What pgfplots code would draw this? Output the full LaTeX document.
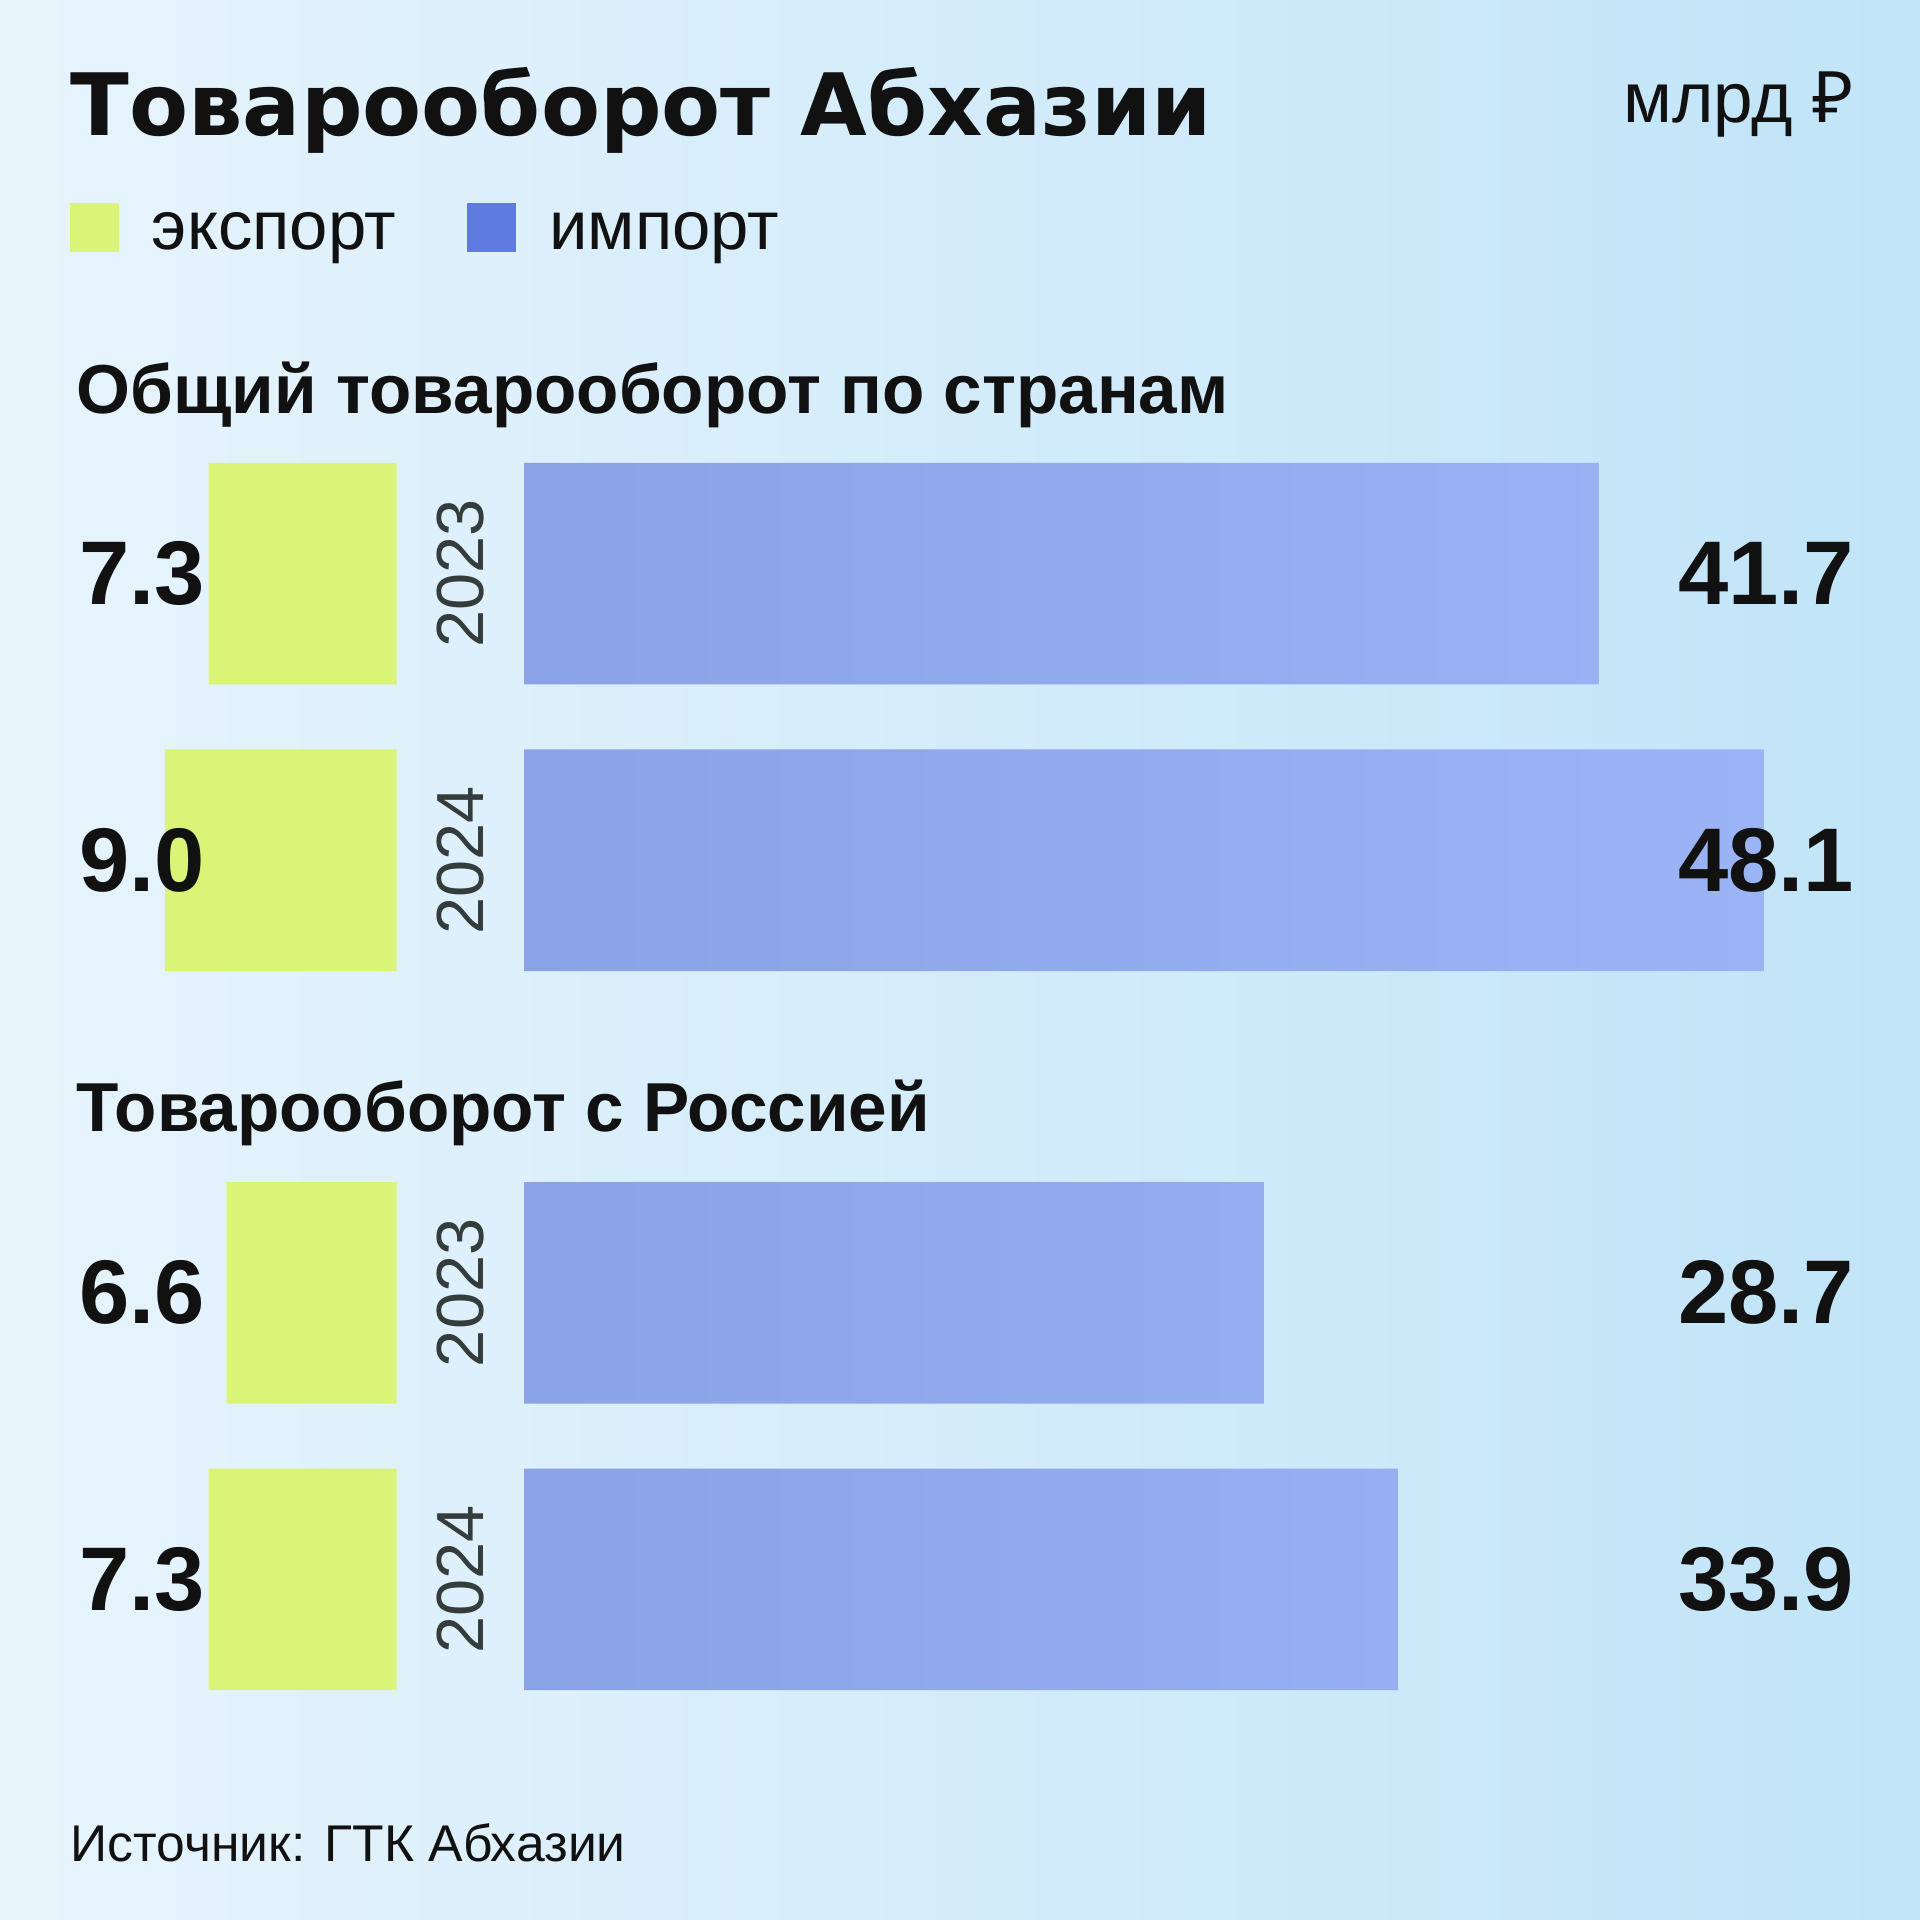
\documentclass[border=0pt]{standalone}
\usepackage{pgfplots}
\pgfplotsset{compat=1.18}
\usepackage{pgfplotstable}
\usepackage{fontspec}
\setmainfont{Liberation Sans}
\newfontfamily\titlefont{DejaVu Sans}
\newfontfamily\rub{Noto Sans}

\definecolor{bgL}{HTML}{E7F4FC}
\definecolor{bgR}{HTML}{C1E4F8}
\definecolor{expc}{HTML}{D9F476}
\definecolor{impL}{HTML}{8AA3E6}
\definecolor{impR}{HTML}{9BB4F6}
\definecolor{legimp}{HTML}{5F7AE0}
\definecolor{yearc}{HTML}{343C3C}
\definecolor{txt}{HTML}{111111}

% pos = row on the y axis (gap between the two panels is larger)
\pgfplotstableread{
pos  exp imp  year
1    7.3 41.7 2023
2    9.0 48.1 2024
3.51 6.6 28.7 2023
4.51 7.3 33.9 2024
}\trade

\pgfplotsset{
  rows/.style={y=2.34cm, y dir=reverse, ymin=0.5, ymax=5,
    x=0.2105cm, xmin=0, hide axis, clip=false},
  vals/.style={draw=none, mark=none, forget plot, nodes near coords,
    point meta=explicit symbolic,
    nodes near coords style={anchor=east, inner sep=0pt, text=txt,
      font=\bfseries\fontsize{21}{24}\selectfont}},
}

\begin{document}
\begin{tikzpicture}
\fill[left color=bgL, right color=bgR] (0,0) rectangle (15.68,15.68);
\useasboundingbox (0,0) rectangle (15.68,15.68);

\node[anchor=base west, inner sep=0, text=txt,
  font=\titlefont\bfseries\fontsize{20}{24}\selectfont] at (0.57,14.57) {Товарооборот Абхазии};
\node[anchor=base east, inner sep=0, text=txt,
  font=\fontsize{16.5}{20}\selectfont] at (15.15,14.68) {млрд {\rub ₽}};
\node[anchor=base west, inner sep=0, text=txt,
  font=\bfseries\fontsize{16.1}{20}\selectfont] at (0.62,12.30) {Общий товарооборот по странам};
\node[anchor=base west, inner sep=0, text=txt,
  font=\bfseries\fontsize{16.1}{20}\selectfont] at (0.62,6.44) {Товарооборот с Россией};
\node[anchor=base west, inner sep=0, text=txt,
  font=\fontsize{12}{14}\selectfont] at (0.57,0.48) {Источник: ГТК Абхазии};

% export, growing to the left
\begin{axis}[rows, at={(3.24cm,12.165cm)}, anchor=north east,
  x dir=reverse, xmax=10]
\addplot[xbar, bar shift=0pt, bar width=1.81cm, fill=expc, draw=none, forget plot]
  table[x=exp, y=pos] {\trade};
\addplot[vals] table[x expr=7.41, y=pos, meta=exp] {\trade};
\addplot[draw=none, mark=none, forget plot, nodes near coords,
  point meta=explicit symbolic,
  nodes near coords style={anchor=center, rotate=90, inner sep=0pt, text=yearc,
    font=\fontsize{15.5}{18}\selectfont}]
  table[x expr=-2.47, y=pos, meta=year] {\trade};
\end{axis}

% import, growing to the right
\begin{axis}[rows, at={(4.28cm,12.165cm)}, anchor=north west, xmax=50,
  legend columns=-1,
  legend image code/.code={\fill[#1, draw=none] (0cm,-0.145cm) rectangle (0.40cm,0.255cm);},
  legend style={at={(axis cs:-17.62,-0.2927)}, anchor=north west,
    draw=none, fill=none, inner sep=0pt, outer sep=0pt,
    font=\fontsize{16}{20}\selectfont, text=txt,
    nodes={inner sep=0pt},
    /tikz/every odd column/.append style={column sep=0.27cm},
    /tikz/every even column/.append style={column sep=0.58cm}}]
\addlegendimage{fill=expc}
\addlegendentry{экспорт}
\addlegendimage{fill=legimp}
\addlegendentry{импорт}
\addplot[xbar, bar shift=0pt, bar width=1.81cm, left color=impL, right color=impR,
  draw=none, forget plot]
  table[x=imp, y=pos] {\trade};
\addplot[vals] table[x expr=51.64, y=pos, meta=imp] {\trade};
\end{axis}
\end{tikzpicture}
\end{document}
